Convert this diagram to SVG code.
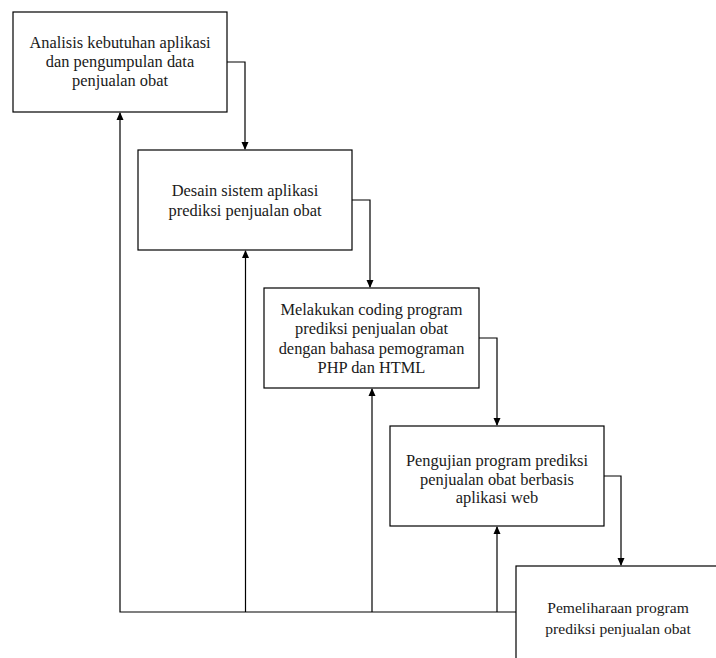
<svg xmlns="http://www.w3.org/2000/svg" width="716" height="658" viewBox="0 0 716 658">
<style>
.box{fill:#fff;stroke:#000;stroke-width:1.2}
.lbl{font-family:"Liberation Serif","Times New Roman",serif;font-size:16.4px;fill:#1a1a1a;text-anchor:middle}
.sm{font-size:15.6px}
.con{fill:none;stroke:#000;stroke-width:1.2}
</style>
<defs>
<marker id="ah" markerWidth="8" markerHeight="8" refX="7" refY="4" orient="auto" markerUnits="userSpaceOnUse">
<path d="M0,0.5 L8,4 L0,7.5 Z" fill="#000"/>
</marker>
</defs>
<rect width="716" height="658" fill="#fff"/>
<g id="connectors">
<polyline class="con" points="227,62 245,62 245,149" marker-end="url(#ah)"/>
<polyline class="con" points="352,200 370,200 370,287" marker-end="url(#ah)"/>
<polyline class="con" points="479,338 497,338 497,425" marker-end="url(#ah)"/>
<polyline class="con" points="604,476 621,476 621,565" marker-end="url(#ah)"/>
<polyline class="con" points="516,612 120,612 120,113" marker-end="url(#ah)"/>
<line class="con" x1="245.5" y1="612" x2="245.5" y2="251" marker-end="url(#ah)"/>
<line class="con" x1="372" y1="612" x2="372" y2="389" marker-end="url(#ah)"/>
<line class="con" x1="497" y1="612" x2="497" y2="527" marker-end="url(#ah)"/>
</g>
<g id="n1">
<rect class="box" x="13" y="12" width="214" height="100"/>
<text class="lbl" x="120" y="48">Analisis kebutuhan aplikasi</text>
<text class="lbl" x="120" y="67">dan pengumpulan data</text>
<text class="lbl" x="120" y="86">penjualan obat</text>
</g>
<g id="n2">
<rect class="box" x="138" y="150" width="214" height="100"/>
<text class="lbl" x="245" y="196">Desain sistem aplikasi</text>
<text class="lbl" x="245" y="216">prediksi penjualan obat</text>
</g>
<g id="n3">
<rect class="box" x="264" y="288" width="215" height="100"/>
<text class="lbl" x="371.5" y="315">Melakukan coding program</text>
<text class="lbl" x="371.5" y="334">prediksi penjualan obat</text>
<text class="lbl" x="371.5" y="354">dengan bahasa pemograman</text>
<text class="lbl" x="371.5" y="373">PHP dan HTML</text>
</g>
<g id="n4">
<rect class="box" x="390" y="426" width="214" height="100"/>
<text class="lbl" x="497" y="466">Pengujian program prediksi</text>
<text class="lbl" x="497" y="485">penjualan obat berbasis</text>
<text class="lbl" x="497" y="503">aplikasi web</text>
</g>
<g id="n5">
<rect class="box" x="516" y="566" width="204" height="100"/>
<text class="lbl sm" x="618" y="613">Pemeliharaan program</text>
<text class="lbl sm" x="618" y="634">prediksi penjualan obat</text>
</g>
</svg>
